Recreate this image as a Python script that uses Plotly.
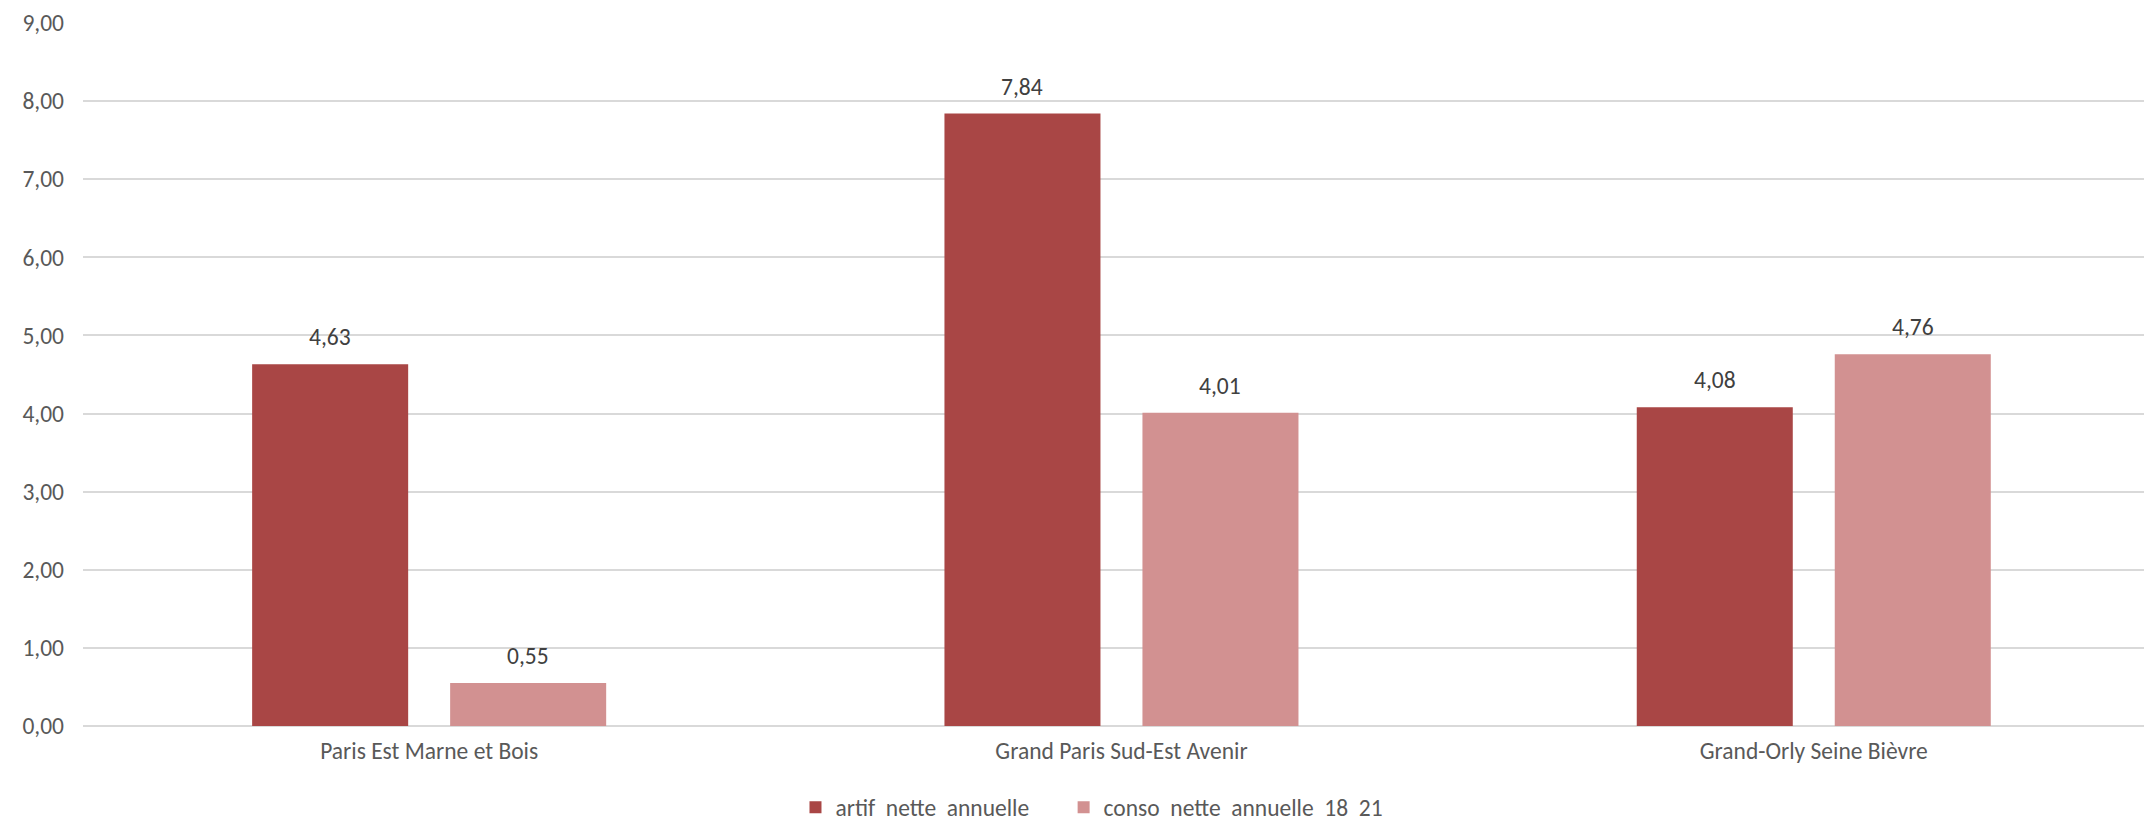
import plotly.graph_objects as go

categories = ["Paris Est Marne et Bois", "Grand Paris Sud-Est Avenir", "Grand-Orly Seine Bièvre"]
series_names = ["artif\u00a0 nette\u00a0 annuelle", "conso\u00a0 nette\u00a0 annuelle\u00a0 18\u00a0 21"]
artif = [4.63, 7.84, 4.08]
conso = [0.55, 4.01, 4.76]
y_ticks = [0, 1, 2, 3, 4, 5, 6, 7, 8, 9]

colors = ["#A94645", "#D29191"]
font_family = "Calibri, Carlito, Lato, sans-serif"
FS = 23.5
BARGAP = 0.428
GROUPGAP = 0.212

x_idx = list(range(len(categories)))
fig = go.Figure()
for name, vals, col, lg in zip(series_names, [artif, conso], colors, ["legend", "legend2"]):
    fig.add_trace(go.Bar(x=x_idx, y=vals, name=name, legend=lg,
                         marker=dict(color=col, line=dict(width=0))))

# data labels above each bar
slot = (1 - BARGAP) / 2
for si, vals in enumerate([artif, conso]):
    off = (si - 0.5) * slot
    for j, v in enumerate(vals):
        fig.add_annotation(x=j + off, y=v, text=f"{v:.2f}".replace(".", ","),
                           showarrow=False, yanchor="bottom", yshift=11,
                           font=dict(family=font_family, size=FS, color="#404040"))

legend_style = dict(orientation="h", xanchor="left", y=-0.116, yanchor="middle",
                    font=dict(family=font_family, size=FS, color="#595959"), itemwidth=30)

fig.update_layout(
    width=2144, height=822,
    margin=dict(l=83, r=0, t=23, b=96, autoexpand=False),
    paper_bgcolor="white", plot_bgcolor="white",
    barmode="group", bargap=BARGAP, bargroupgap=GROUPGAP,
    separators=", ",
    font=dict(family=font_family, size=FS, color="#595959"),
    showlegend=True,
    legend=dict(x=0.3457, **legend_style),
    legend2=dict(x=0.4758, **legend_style),
)
fig.update_xaxes(range=[-0.5, 2.477], tickvals=x_idx, ticktext=categories,
                 showgrid=False, zeroline=False, showline=False, ticks="",
                 ticklabelstandoff=8, automargin=False, fixedrange=True)
fig.update_yaxes(range=[0, 9], tickvals=y_ticks, tickformat=".2f",
                 showgrid=True, gridcolor="#D9D9D9", gridwidth=1.5,
                 zeroline=True, zerolinecolor="#D9D9D9", zerolinewidth=1.5,
                 showline=False, ticks="", ticklabelstandoff=18, automargin=False)

fig.write_html("out.html", config={"displayModeBar": False},
               post_script="document.body.style.margin='0';document.body.style.overflow='hidden';")
